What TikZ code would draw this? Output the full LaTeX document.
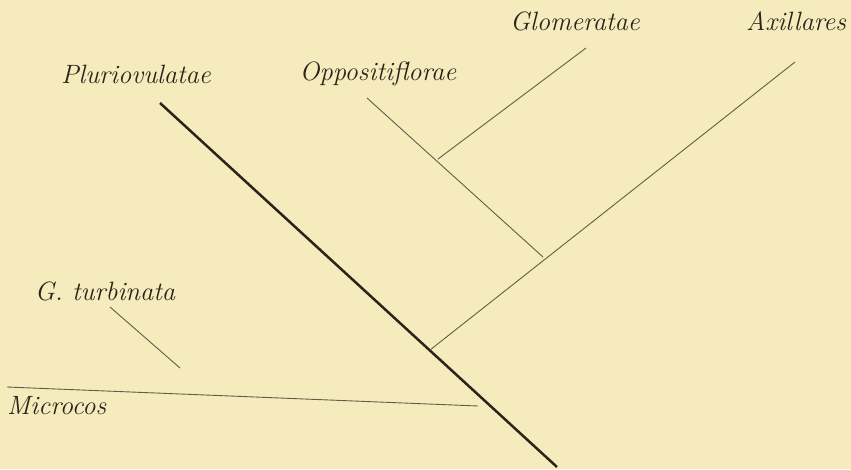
\documentclass[tikz,border=0pt]{standalone}
\usepackage{xcolor}
\definecolor{paper}{RGB}{246,235,188}
\definecolor{ink}{RGB}{42,36,26}
\definecolor{pencil}{RGB}{100,92,72}
\tikzset{
  taxon/.style={font=\fontsize{26.5}{30}\selectfont\itshape,text=ink,inner sep=0pt},
  stem/.style={draw=ink,line width=2.5pt},
  twig/.style={draw=pencil,line width=0.9pt}
}
\begin{document}
\begin{tikzpicture}[x=1pt,y=-1pt]
\fill[paper] (0,0) rectangle (851,469);
\useasboundingbox (0,0) rectangle (851,469);
% labels
\node[taxon] (glo) at (575,21) {Glomeratae};
\node[taxon] (axi) at (796,21) {Axillares};
\node[taxon] (plu) at (136,74) {Pluriovulatae};
\node[taxon] (opp) at (378,74) {Oppositiflorae};
\node[taxon] (gtu) at (105,291) {G. turbinata};
\node[taxon,anchor=west] (mic) at (7,406) {Microcos};
% line ends
\coordinate (plu0) at (160,103);
\coordinate (plu1) at (557,467);
\coordinate (opp0) at (367,98);
\coordinate (opp1) at (543,257);
\coordinate (glo0) at (586,48);
\coordinate (glo1) at (438,159);
\coordinate (axi0) at (795,62);
\coordinate (axi1) at (430,350);
\coordinate (gtu0) at (110,307);
\coordinate (gtu1) at (180,368);
\coordinate (mic0) at (7,387);
\coordinate (mic1) at (478,406);
\draw[stem] (plu0) -- (plu1);
\draw[twig] (opp0) -- (opp1);
\draw[twig] (glo0) -- (glo1);
\draw[twig] (axi0) -- (axi1);
\draw[twig] (gtu0) -- (gtu1);
\draw[twig] (mic0) -- (mic1);
\end{tikzpicture}
\end{document}
